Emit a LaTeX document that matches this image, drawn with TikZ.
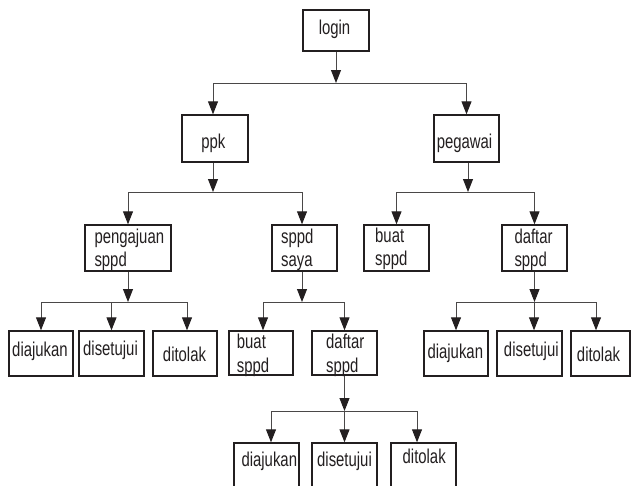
\documentclass[tikz,border=0pt]{standalone}
\usepackage{fontspec}
\setmainfont{Liberation Sans}[FakeStretch=0.745]
\usetikzlibrary{arrows.meta}
\definecolor{ink}{HTML}{231F20}
\definecolor{wire}{HTML}{4A4848}
\begin{document}
\begin{tikzpicture}[x=1pt,y=-1pt,
  box/.style={draw=ink, line width=1.4pt, inner sep=0pt, fill=none},
  txt/.style={inner sep=0pt, text=ink, font=\fontsize{20}{24}\selectfont},
  ln/.style={draw=wire, line width=0.9pt},
  arr/.style={ln, -{Triangle[length=13pt,width=10pt,fill=ink,color=ink]}}
]
\fill[white] (0,0) rectangle (631,485);
\useasboundingbox (0,0) rectangle (631,485);

% boxes
\node[box, minimum width=66pt, minimum height=41pt] (login) at (336,30.5) {};
\node[box, minimum width=66pt, minimum height=47pt] (ppk) at (215,138.5) {};
\node[box, minimum width=65pt, minimum height=47pt] (peg) at (466.5,138.5) {};
\node[box, minimum width=86pt, minimum height=46pt] (peng) at (128,248) {};
\node[box, minimum width=65pt, minimum height=46pt] (saya) at (304.5,248) {};
\node[box, minimum width=65pt, minimum height=46pt] (buatR) at (396.5,248) {};
\node[box, minimum width=65pt, minimum height=46pt] (daftR) at (534.5,248) {};
\node[box, minimum width=64pt, minimum height=45pt] (djL) at (41,353.5) {};
\node[box, minimum width=65pt, minimum height=45pt] (dsL) at (111.5,353.5) {};
\node[box, minimum width=64pt, minimum height=45pt] (dtL) at (185,353.5) {};
\node[box, minimum width=64pt, minimum height=44pt] (buatM) at (261,353) {};
\node[box, minimum width=65pt, minimum height=44pt] (daftM) at (344.5,353) {};
\node[box, minimum width=64pt, minimum height=45pt] (djR) at (456,353.5) {};
\node[box, minimum width=65pt, minimum height=45pt] (dsR) at (529.5,353.5) {};
\node[box, minimum width=59pt, minimum height=45pt] (dtR) at (600.5,353.5) {};
\node[box, minimum width=65pt, minimum height=49pt] (dj4) at (266.5,467.5) {};
\node[box, minimum width=65pt, minimum height=49pt] (ds4) at (344.5,467.5) {};
\node[box, minimum width=65pt, minimum height=49pt] (dt4) at (423.5,467.5) {};

% texts
\node[txt, anchor=base] (tlogin) at (334.5,34) {login};
\node[txt, anchor=base] (tppk) at (213.3,148.5) {ppk};
\node[txt, anchor=base] (tpeg) at (464.5,148.3) {pegawai};
\node[txt, anchor=base west] (tpeng1) at (94.3,243.5) {pengajuan};
\node[txt, anchor=base west] (tpeng2) at (94.3,266) {sppd};
\node[txt, anchor=base west] (tsaya1) at (281,243) {sppd};
\node[txt, anchor=base west] (tsaya2) at (281,266) {saya};
\node[txt, anchor=base west] (tbuatR1) at (375,242) {buat};
\node[txt, anchor=base west] (tbuatR2) at (375,265.5) {sppd};
\node[txt, anchor=base west] (tdaftR1) at (514.3,243) {daftar};
\node[txt, anchor=base west] (tdaftR2) at (514.3,266) {sppd};
\node[txt, anchor=base west] (tbuatM1) at (236.7,348.5) {buat};
\node[txt, anchor=base west] (tbuatM2) at (236.7,372.5) {sppd};
\node[txt, anchor=base west] (tdaftM1) at (326,348.5) {daftar};
\node[txt, anchor=base west] (tdaftM2) at (326,372.5) {sppd};
\node[txt, anchor=base] (tdjL) at (40,356.7) {diajukan};
\node[txt, anchor=base] (tdsL) at (110.5,355.5) {disetujui};
\node[txt, anchor=base] (tdtL) at (184.5,361.7) {ditolak};
\node[txt, anchor=base] (tdjR) at (455.3,358) {diajukan};
\node[txt, anchor=base] (tdsR) at (531.3,356.7) {disetujui};
\node[txt, anchor=base] (tdtR) at (598.5,361.7) {ditolak};
\node[txt, anchor=base] (tdj4) at (269.3,466.7) {diajukan};
\node[txt, anchor=base] (tds4) at (344.5,466.7) {disetujui};
\node[txt, anchor=base] (tdt4) at (424.2,463.3) {ditolak};

% bus levels
\coordinate (bus1) at (336,83);
\coordinate (bus2) at (213,192);
\coordinate (bus3) at (468,192);
\coordinate (bus4) at (127,302);
\coordinate (bus5) at (302,302);
\coordinate (bus6) at (534,302);
\coordinate (bus7) at (344,411);

% shifted drop points
\coordinate (ppkOut) at ([xshift=-2pt]ppk.south);
\coordinate (pegOut) at ([xshift=1.5pt]peg.south);
\coordinate (sayaOut) at ([xshift=-2.5pt]saya.south);
\coordinate (sayaIn) at ([xshift=-2.5pt]saya.north);
\coordinate (ppkIn) at ([xshift=-2pt]ppk.north);
\coordinate (dtLIn) at ([xshift=2pt]dtL.north);
\coordinate (buatMIn) at ([xshift=2pt]buatM.north);
\coordinate (dsRIn) at ([xshift=4.5pt]dsR.north);
\coordinate (dtRIn) at ([xshift=-4.5pt]dtR.north);
\coordinate (dj4In) at ([xshift=4.5pt]dj4.north);
\coordinate (dt4In) at ([xshift=-6.5pt]dt4.north);

% login -> ppk, pegawai
\draw[arr] (login.south) -- (login.south |- bus1);
\draw[ln] (ppkIn |- bus1) -- (peg.north |- bus1);
\draw[arr] (ppkIn |- bus1) -- (ppkIn);
\draw[arr] (peg.north |- bus1) -- (peg.north);

% ppk -> pengajuan, sppd saya
\draw[arr] (ppkOut) -- (ppkOut |- bus2);
\draw[ln] (peng.north |- bus2) -- (sayaIn |- bus2);
\draw[arr] (peng.north |- bus2) -- (peng.north);
\draw[arr] (sayaIn |- bus2) -- (sayaIn);

% pegawai -> buat, daftar
\draw[arr] (pegOut) -- (pegOut |- bus3);
\draw[ln] (buatR.north |- bus3) -- (daftR.north |- bus3);
\draw[arr] (buatR.north |- bus3) -- (buatR.north);
\draw[arr] (daftR.north |- bus3) -- (daftR.north);

% pengajuan -> diajukan, disetujui, ditolak
\draw[arr] (peng.south) -- (peng.south |- bus4);
\draw[ln] (djL.north |- bus4) -- (dtLIn |- bus4);
\draw[arr] (djL.north |- bus4) -- (djL.north);
\draw[arr] (dsL.north |- bus4) -- (dsL.north);
\draw[arr] (dtLIn |- bus4) -- (dtLIn);

% sppd saya -> buat, daftar
\draw[arr] (sayaOut) -- (sayaOut |- bus5);
\draw[ln] (buatMIn |- bus5) -- (daftM.north |- bus5);
\draw[arr] (buatMIn |- bus5) -- (buatMIn);
\draw[arr] (daftM.north |- bus5) -- (daftM.north);

% daftar (pegawai) -> diajukan, disetujui, ditolak
\draw[arr] (daftR.south) -- (daftR.south |- bus6);
\draw[ln] (djR.north |- bus6) -- (dtRIn |- bus6);
\draw[arr] (djR.north |- bus6) -- (djR.north);
\draw[arr] (dsRIn |- bus6) -- (dsRIn);
\draw[arr] (dtRIn |- bus6) -- (dtRIn);

% daftar (sppd saya) -> diajukan, disetujui, ditolak
\draw[arr] (daftM.south) -- (daftM.south |- bus7);
\draw[ln] (dj4In |- bus7) -- (dt4In |- bus7);
\draw[arr] (dj4In |- bus7) -- (dj4In);
\draw[arr] (ds4.north |- bus7) -- (ds4.north);
\draw[arr] (dt4In |- bus7) -- (dt4In);
\end{tikzpicture}
\end{document}
